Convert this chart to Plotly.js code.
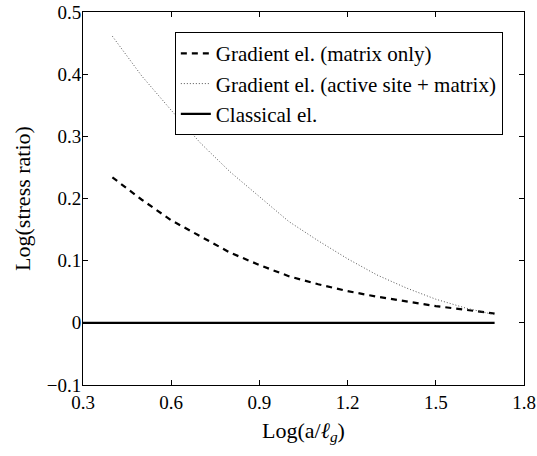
<!DOCTYPE html>
<html>
<head>
<meta charset="utf-8">
<script src="https://cdn.plot.ly/plotly-3.0.1.min.js"></script>
<style>html,body{margin:0;padding:0;background:#fff;}#chart{width:537px;height:456px;}</style>
</head>
<body>
<div id="chart"></div>
<script>
var xVals = [0.4, 0.5, 0.6, 0.7, 0.8, 0.9, 1.0, 1.1, 1.2, 1.3, 1.4, 1.5, 1.6, 1.7];
var matrixOnly = [0.234, 0.198, 0.165, 0.139, 0.113, 0.093, 0.075, 0.062, 0.051, 0.042, 0.034, 0.027, 0.021, 0.015];
var activeSite = [0.461, 0.397, 0.342, 0.289, 0.243, 0.203, 0.163, 0.132, 0.103, 0.077, 0.056, 0.038, 0.024, 0.013];
var classicalX = [0.3, 1.7];
var classicalY = [0, 0];
var seriesNames = ['Gradient el. (matrix only)', 'Gradient el. (active site + matrix)', 'Classical el.'];
var xTicks = [0.3, 0.6, 0.9, 1.2, 1.5, 1.8];
var yTicks = [-0.1, 0, 0.1, 0.2, 0.3, 0.4, 0.5];
var yTickText = ['\u22120.1', '0', '0.1', '0.2', '0.3', '0.4', '0.5'];

var font = 'Liberation Serif';
var traces = [
  {x: xVals, y: matrixOnly, mode: 'lines', name: seriesNames[0], line: {color: '#000', width: 2.2, dash: '6px,5px'}},
  {x: xVals, y: activeSite, mode: 'lines', name: seriesNames[1], line: {color: '#555', width: 1, dash: '1px,2px'}},
  {x: classicalX, y: classicalY, mode: 'lines', name: seriesNames[2], line: {color: '#000', width: 2.2}}
];
var axisCommon = {
  showgrid: false, zeroline: false, showline: true, linecolor: '#000', linewidth: 1,
  mirror: 'ticks', ticks: 'inside', ticklen: 5, tickcolor: '#000', tickwidth: 1,
  tickfont: {family: font, size: 19, color: '#000'}
};
var layout = {
  width: 537, height: 456,
  margin: {l: 83, r: 13, t: 12, b: 71},
  paper_bgcolor: '#fff', plot_bgcolor: '#fff',
  font: {family: font, size: 19, color: '#000'},
  showlegend: true,
  legend: {x: 0.952, xanchor: 'right', y: 0.946, yanchor: 'top', bordercolor: '#000', borderwidth: 1,
           bgcolor: '#fff', font: {family: font, size: 21, color: '#000'}, tracegroupgap: 0},
  xaxis: Object.assign({}, axisCommon, {range: [0.3, 1.8], tickvals: xTicks, ticktext: xTicks.map(function(v){return v.toFixed(1);}),
    ticklabelstandoff: 0,
    title: {text: 'Log(a/<i>\u2113</i><sub><i>g</i></sub>)', font: {family: font, size: 22, color: '#000'}, standoff: 10}}),
  yaxis: Object.assign({}, axisCommon, {range: [-0.1, 0.5], tickvals: yTicks, ticktext: yTickText,
    ticklabelstandoff: -3,
    title: {text: 'Log(stress ratio)', font: {family: font, size: 22, color: '#000'}, standoff: 10}})
};
Plotly.newPlot('chart', traces, layout, {displayModeBar: false, staticPlot: true});
</script>
</body>
</html>
